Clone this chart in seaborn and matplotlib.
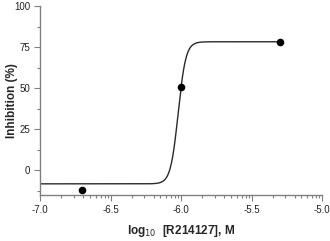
import numpy as np
import pandas as pd
import matplotlib
matplotlib.use("Agg")
import matplotlib.pyplot as plt
import seaborn as sns

# data
log_conc = [-6.699, -6.0, -5.301]
inhibition = [-12.0, 50.5, 78.0]
# fitted 4-parameter logistic curve
fit_bottom = -8.4
fit_top = 78.2
fit_logec50 = -6.02
fit_hill = 16.0
xticks = [-7.0, -6.5, -6.0, -5.5, -5.0]
yticks = [0, 25, 50, 75, 100]

sns.set_theme(style="ticks")
plt.rcParams['font.family'] = ['Liberation Sans', 'DejaVu Sans']

fig = plt.figure(figsize=(3.3, 2.41), dpi=100)
ax = fig.add_axes([40/330, 46/241, 282/330, 189/241])

xc = np.linspace(-7.0, log_conc[-1], 800)
yc = fit_bottom + (fit_top - fit_bottom) / (1 + 10 ** ((fit_logec50 - xc) * fit_hill))
curve = pd.DataFrame({"x": xc, "y": yc})
pts = pd.DataFrame({"x": log_conc, "y": inhibition})

sns.lineplot(data=curve, x="x", y="y", ax=ax, color="#2a2a2a", lw=1.0)
sns.scatterplot(data=pts, x="x", y="y", ax=ax, color="black", s=30,
                edgecolor="black", linewidth=0, zorder=5, clip_on=False)

ax.set_xlim(-7.0, -5.0)
ax.set_ylim(-15.2, 100)
ax.set_xticks(xticks)
ax.set_xticklabels([f"{t:.1f}" for t in xticks])
ax.set_yticks(yticks)
ax.set_yticklabels([str(t) for t in yticks])

# minor ticks
minor_off = [0.15, 0.24, 0.305, 0.353, 0.394, 0.43, 0.458, 0.482]
xminor = [b + o for b in [-7.0, -6.5, -6.0, -5.5] for o in minor_off]
ax.set_xticks(xminor, minor=True)
ax.set_yticks([87.5, 62.5, 37.5, 12.5, -12.5], minor=True)

axis_col = "#808080"
for s in ["top", "right"]:
    ax.spines[s].set_visible(False)
for s in ["left", "bottom"]:
    ax.spines[s].set_color(axis_col)
    ax.spines[s].set_linewidth(1.0)

ax.tick_params(axis="both", which="major", length=4, width=0.8, color=axis_col,
               labelsize=7, labelcolor="#222222", pad=3)
ax.tick_params(axis="both", which="minor", length=2.5, width=0.8, color=axis_col)

ax.set_xlabel(r"log$_{10}$  [R214127], M", fontsize=8.5, fontweight="bold")
ax.set_ylabel("Inhibition (%)", fontsize=8.5, fontweight="bold")
ax.yaxis.set_label_coords(-28/282, 0.5)
ax.xaxis.set_label_coords(0.5, -36/189)
ax.xaxis.label.set_verticalalignment("center")
ax.yaxis.label.set_verticalalignment("center")

fig.savefig("out.png", dpi=100)
